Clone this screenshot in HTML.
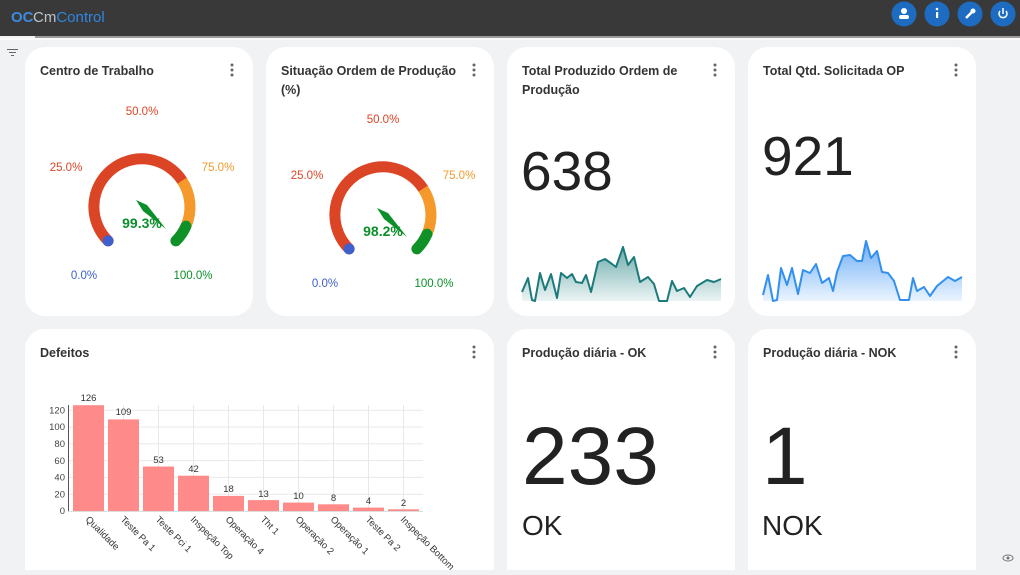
<!DOCTYPE html>
<html><head><meta charset="utf-8"><style>
body{margin:0;width:1020px;height:570px;overflow:hidden;background:#f1f2f4;font-family:"Liberation Sans",sans-serif}
</style></head><body>
<svg width="1020" height="570" viewBox="0 0 1020 570" xmlns="http://www.w3.org/2000/svg" font-family="Liberation Sans, sans-serif">
<defs>
<linearGradient id="g1" x1="0" y1="0" x2="0" y2="1"><stop offset="0" stop-color="#3d8f8f" stop-opacity="0.75"/><stop offset="1" stop-color="#3d8f8f" stop-opacity="0.1"/></linearGradient>
<linearGradient id="g2" x1="0" y1="0" x2="0" y2="1"><stop offset="0" stop-color="#3b93f5" stop-opacity="0.75"/><stop offset="1" stop-color="#3b93f5" stop-opacity="0.1"/></linearGradient>
</defs>
<rect x="0" y="0" width="1020" height="36" fill="#393939"/>
<rect x="35" y="36" width="985" height="2" fill="#9c9c9c"/>
<rect x="0" y="38" width="1020" height="2" fill="#fafafa"/>
<text x="11" y="22" font-size="15" fill="#3a8be0" font-weight="bold">ОC</text>
<text x="33" y="22" font-size="15" fill="#bfc4c9">Cm<tspan fill="#2f86e0">Control</tspan></text>
<g fill="#1d6cc2"><circle cx="904" cy="14" r="12.5"/><circle cx="937" cy="14" r="12.5"/><circle cx="970" cy="14" r="12.5"/><circle cx="1003" cy="14" r="12.5"/></g>
<g fill="#fff"><circle cx="904" cy="11" r="3"/><rect x="899" y="15" width="10" height="4" rx="2"/><rect x="936" y="12" width="2.2" height="6"/><circle cx="937" cy="9" r="1.3"/><path d="M966 18 L972 12" stroke="#fff" stroke-width="2.5"/><circle cx="973" cy="11" r="2.5"/></g>
<path d="M1000 11 A4 4 0 1 0 1006 11" stroke="#fff" stroke-width="1.5" fill="none"/><line x1="1003" y1="8" x2="1003" y2="14" stroke="#fff" stroke-width="1.5"/>
<g stroke="#666" stroke-width="1"><line x1="7" y1="49.5" x2="18" y2="49.5"/><line x1="9" y1="52.5" x2="16" y2="52.5"/><line x1="11" y1="55.5" x2="14" y2="55.5"/></g>
<g fill="#fff"><rect x="25" y="47" width="228" height="269" rx="20"/><rect x="266" y="47" width="228" height="269" rx="20"/><rect x="507" y="47" width="228" height="269" rx="20"/><rect x="748" y="47" width="228" height="269" rx="20"/>
<rect x="25" y="329" width="469" height="260" rx="20"/><rect x="507" y="329" width="228" height="260" rx="20"/><rect x="748" y="329" width="228" height="260" rx="20"/></g>
<g font-size="12.5" font-weight="bold" fill="#333">
<text x="40" y="75">Centro de Trabalho</text>
<text x="281" y="75">Situação Ordem de Produção</text><text x="281" y="94">(%)</text>
<text x="522" y="75">Total Produzido Ordem de</text><text x="522" y="94">Produção</text>
<text x="763" y="75">Total Qtd. Solicitada OP</text>
<text x="40" y="357">Defeitos</text>
<text x="522" y="357">Produção diária - OK</text>
<text x="763" y="357">Produção diária - NOK</text></g>
<g fill="#666"><circle cx="232" cy="65" r="1.5"/><circle cx="232" cy="70" r="1.5"/><circle cx="232" cy="75" r="1.5"/>
<circle cx="474" cy="65" r="1.5"/><circle cx="474" cy="70" r="1.5"/><circle cx="474" cy="75" r="1.5"/>
<circle cx="715" cy="65" r="1.5"/><circle cx="715" cy="70" r="1.5"/><circle cx="715" cy="75" r="1.5"/>
<circle cx="956" cy="65" r="1.5"/><circle cx="956" cy="70" r="1.5"/><circle cx="956" cy="75" r="1.5"/>
<circle cx="474" cy="347" r="1.5"/><circle cx="474" cy="352" r="1.5"/><circle cx="474" cy="357" r="1.5"/>
<circle cx="715" cy="347" r="1.5"/><circle cx="715" cy="352" r="1.5"/><circle cx="715" cy="357" r="1.5"/>
<circle cx="956" cy="347" r="1.5"/><circle cx="956" cy="352" r="1.5"/><circle cx="956" cy="357" r="1.5"/></g>
<g id="gauge1" font-size="11.5" text-anchor="middle">
<path d="M108.1 240.9 A48 48 0 1 1 182.1 180.6" stroke="#dc4426" stroke-width="11" fill="none" stroke-linecap="round"/>
<path d="M182.1 180.6 A48 48 0 0 1 186 226.1" stroke="#f59a2a" stroke-width="11" fill="none"/>
<path d="M186 226.1 A48 48 0 0 1 175.9 240.9" stroke="#0f9128" stroke-width="11" fill="none" stroke-linecap="round"/>
<circle cx="108.1" cy="240.9" r="5.5" fill="#3f5fcc"/>
<polygon points="136,200 147,205 166,229 143,211" fill="#0b8f2a"/>
<text x="142" y="228" font-size="14" font-weight="bold" fill="#0b8f2a">99.3%</text>
<text x="142" y="115" fill="#dc4426">50.0%</text><text x="66" y="171" fill="#dc4426">25.0%</text><text x="218" y="171" fill="#f59a2a">75.0%</text>
<text x="84" y="279" fill="#3f5fcc">0.0%</text><text x="193" y="279" fill="#0b8f2a">100.0%</text></g>
<g transform="translate(241,8)" font-size="11.5" text-anchor="middle">
<path d="M108.1 240.9 A48 48 0 1 1 182.1 180.6" stroke="#dc4426" stroke-width="11" fill="none" stroke-linecap="round"/>
<path d="M182.1 180.6 A48 48 0 0 1 186 226.1" stroke="#f59a2a" stroke-width="11" fill="none"/>
<path d="M186 226.1 A48 48 0 0 1 175.9 240.9" stroke="#0f9128" stroke-width="11" fill="none" stroke-linecap="round"/>
<circle cx="108.1" cy="240.9" r="5.5" fill="#3f5fcc"/>
<polygon points="136,200 147,205 166,229 143,211" fill="#0b8f2a"/>
<text x="142" y="228" font-size="14" font-weight="bold" fill="#0b8f2a">98.2%</text>
<text x="142" y="115" fill="#dc4426">50.0%</text><text x="66" y="171" fill="#dc4426">25.0%</text><text x="218" y="171" fill="#f59a2a">75.0%</text>
<text x="84" y="279" fill="#3f5fcc">0.0%</text><text x="193" y="279" fill="#0b8f2a">100.0%</text></g>
<g fill="#222"><text x="521" y="190" font-size="55">638</text><text x="762" y="175" font-size="55">921</text>
<text x="522" y="484" font-size="82">233</text><text x="522" y="535" font-size="28">OK</text>
<text x="762" y="484" font-size="82">1</text><text x="762" y="535" font-size="28">NOK</text></g>
<path d="M522,301 L522,292 L528,278 L532,300 L535,301 L540,273 L545,290 L551,274 L557,298 L561,273 L567,278 L572,274 L576,282 L582,283 L586,275 L591,292 L598,262 L605,259 L612,264 L616,267 L623,247 L628,265 L634,257 L640,282 L648,277 L654,284 L659,301 L667,301 L672,281 L677,291 L684,288 L690,297 L697,286 L707,280 L714,282 L721,279 L721,301 Z" fill="url(#g1)"/>
<path d="M522,292 L528,278 L532,300 L535,301 L540,273 L545,290 L551,274 L557,298 L561,273 L567,278 L572,274 L576,282 L582,283 L586,275 L591,292 L598,262 L605,259 L612,264 L616,267 L623,247 L628,265 L634,257 L640,282 L648,277 L654,284 L659,301 L667,301 L672,281 L677,291 L684,288 L690,297 L697,286 L707,280 L714,282 L721,279" fill="none" stroke="#1d7a7a" stroke-width="2" stroke-linejoin="round"/>
<path d="M763,301 L763,295 L768,275 L773,301 L777,300 L781,268 L787,285 L792,268 L798,294 L803,270 L810,273 L816,264 L822,283 L829,278 L833,291 L837,272 L843,256 L850,255 L857,261 L862,261 L866,241 L871,258 L877,251 L882,272 L888,273 L894,281 L900,300 L909,300 L913,278 L917,291 L924,287 L930,296 L937,286 L948,277 L955,281 L962,277 L962,301 Z" fill="url(#g2)"/>
<path d="M763,295 L768,275 L773,301 L777,300 L781,268 L787,285 L792,268 L798,294 L803,270 L810,273 L816,264 L822,283 L829,278 L833,291 L837,272 L843,256 L850,255 L857,261 L862,261 L866,241 L871,258 L877,251 L882,272 L888,273 L894,281 L900,300 L909,300 L913,278 L917,291 L924,287 L930,296 L937,286 L948,277 L955,281 L962,277" fill="none" stroke="#3390ee" stroke-width="2" stroke-linejoin="round"/>
<g stroke="#e8e8e8" stroke-width="1">
<line x1="68" y1="494.2" x2="423" y2="494.2"/><line x1="68" y1="477.4" x2="423" y2="477.4"/><line x1="68" y1="460.6" x2="423" y2="460.6"/><line x1="68" y1="443.8" x2="423" y2="443.8"/><line x1="68" y1="427" x2="423" y2="427"/><line x1="68" y1="410.2" x2="423" y2="410.2"/>
<line x1="88.5" y1="405" x2="88.5" y2="511"/><line x1="123.5" y1="405" x2="123.5" y2="511"/><line x1="158.5" y1="405" x2="158.5" y2="511"/><line x1="193.5" y1="405" x2="193.5" y2="511"/><line x1="228.5" y1="405" x2="228.5" y2="511"/><line x1="263.5" y1="405" x2="263.5" y2="511"/><line x1="298.5" y1="405" x2="298.5" y2="511"/><line x1="333.5" y1="405" x2="333.5" y2="511"/><line x1="368.5" y1="405" x2="368.5" y2="511"/><line x1="403.5" y1="405" x2="403.5" y2="511"/>
</g>
<line x1="68.5" y1="405" x2="68.5" y2="511" stroke="#555"/>
<line x1="68" y1="511.5" x2="423" y2="511.5" stroke="#ddd"/>
<g fill="#ff8a8a">
<rect x="73" y="405.2" width="31" height="105.8"/><rect x="108" y="419.4" width="31" height="91.6"/><rect x="143" y="466.5" width="31" height="44.5"/><rect x="178" y="475.7" width="31" height="35.3"/><rect x="213" y="495.9" width="31" height="15.1"/><rect x="248" y="500.1" width="31" height="10.9"/><rect x="283" y="502.6" width="31" height="8.4"/><rect x="318" y="504.3" width="31" height="6.7"/><rect x="353" y="507.6" width="31" height="3.4"/><rect x="388" y="509.3" width="31" height="1.7"/></g>
<g font-size="9.5" fill="#333" text-anchor="middle">
<text x="88.5" y="401">126</text><text x="123.5" y="415">109</text><text x="158.5" y="463">53</text><text x="193.5" y="472">42</text><text x="228.5" y="492">18</text><text x="263.5" y="497">13</text><text x="298.5" y="499">10</text><text x="333.5" y="501">8</text><text x="368.5" y="504">4</text><text x="403.5" y="506">2</text></g>
<g font-size="9.5" fill="#444" text-anchor="end">
<text x="65" y="514">0</text><text x="65" y="497.5">20</text><text x="65" y="480.5">40</text><text x="65" y="464">60</text><text x="65" y="447">80</text><text x="65" y="430">100</text><text x="65" y="413.5">120</text></g>
<g font-size="9.5" fill="#333">
<text transform="translate(85,520) rotate(45)">Qualidade</text>
<text transform="translate(120,520) rotate(45)">Teste Pa 1</text>
<text transform="translate(155,520) rotate(45)">Teste Pci 1</text>
<text transform="translate(190,520) rotate(45)">Inspeção Top</text>
<text transform="translate(225,520) rotate(45)">Operação 4</text>
<text transform="translate(260,520) rotate(45)">Tht 1</text>
<text transform="translate(295,520) rotate(45)">Operação 2</text>
<text transform="translate(330,520) rotate(45)">Operação 1</text>
<text transform="translate(365,520) rotate(45)">Teste Pa 2</text>
<text transform="translate(400,520) rotate(45)">Inspeção Bottom</text></g>
<ellipse cx="1008" cy="558" rx="5" ry="3" fill="none" stroke="#777"/><circle cx="1008" cy="558" r="1.5" fill="#777"/>
</svg>
</body></html>
